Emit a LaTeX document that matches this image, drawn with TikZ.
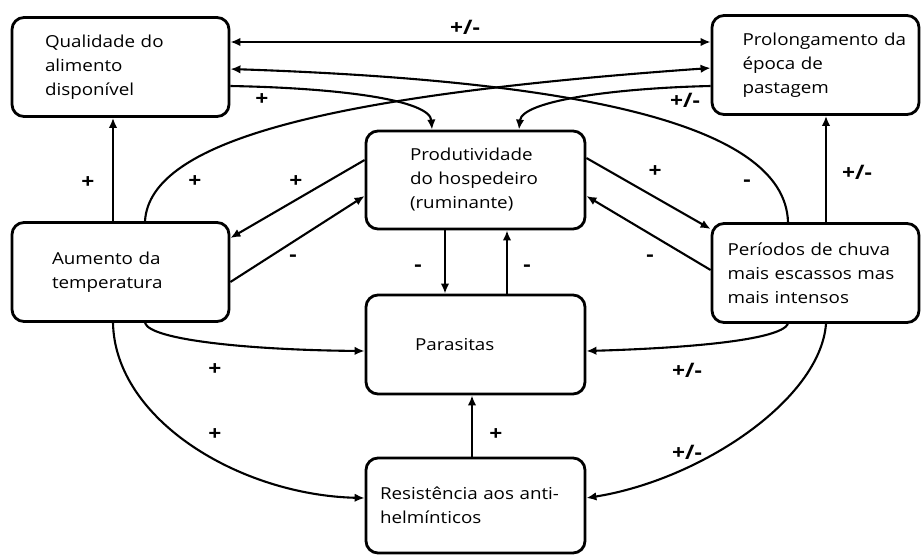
\documentclass[tikz,border=0pt]{standalone}
\usepackage{fontspec}
\setmainfont{Open Sans}[FakeStretch=1.14]
\usetikzlibrary{arrows.meta}

\tikzset{
  box/.style={draw, line width=2.8pt, rounded corners=12pt, inner xsep=0pt,
    minimum width=217pt, minimum height=99pt, align=left,
    font=\fontsize{16.5}{24}\selectfont},
  link/.style={line width=2.1pt, -{Latex[length=10pt,width=8.5pt]}},
  sign/.style={font=\fontsize{20}{22}\selectfont\bfseries, inner sep=1pt}
}

\begin{document}
\begin{tikzpicture}[x=1pt,y=-1pt]
\useasboundingbox (0,0) rectangle (921,555);

%%% HELP LINES - uncomment to design/extend
% \draw[step=50,gray,very thin] (0,0) grid (921,555);

%% Boxes
\node[box, text width=151pt] (qual) at (120.5,67) {Qualidade do\\alimento\\disponível};
\node[box, text width=146pt, minimum width=207pt] (prol) at (815.5,65) {Prolongamento~da\\época de\\pastagem};
\node[box, text width=131pt, minimum width=219pt, minimum height=98pt] (prod) at (475.5,180) {Produtividade\\do hospedeiro\\(ruminante)};
\node[box, text width=137pt] (aum) at (120.5,272) {Aumento da\\temperatura};
\node[box, text width=176pt, minimum width=207pt] (per) at (815.5,273) {Períodos de chuva\\mais escassos mas\\mais intensos};
\node[box, text width=121pt, minimum width=219pt] (par) at (475.5,344.5) {Parasitas};
\node[box, text width=191pt, minimum width=219pt, minimum height=95pt] (res) at (475.5,505.5) {Resistência aos anti-\\helmínticos};

%% Straight links
\draw[link, {Latex[length=10pt,width=8.5pt]}-{Latex[length=10pt,width=8.5pt]}] (qual.east |- 0,42) -- (prol.west |- 0,42);
\draw[link] (aum.north -| 113,0) -- (qual.south -| 113,0);
\draw[link] (per.north -| 826,0) -- (prol.south -| 826,0);
\draw[link] (prod.west |- 0,160) -- (aum.east |- 0,238);
\draw[link] (aum.east |- 0,282) -- (prod.west |- 0,196);
\draw[link] (prod.east |- 0,158) -- (per.west |- 0,229);
\draw[link] (per.west |- 0,270) -- (prod.east |- 0,196);
\draw[link] (prod.south -| 445,0) -- (par.north -| 445,0);
\draw[link] (par.north -| 507,0) -- (prod.south -| 507,0);
\draw[link] (res.north -| 472,0) -- (par.south -| 472,0);

%% Curved links, top
\draw[link] (per.north -| 788,0) .. controls (785,120) and (560,80) .. (qual.east |- 0,69);
\draw[link] (aum.north -| 145,0) .. controls (150,140) and (330,95) .. (prol.west |- 0,68);
\draw[link] (qual.east |- 0,86) .. controls (340,88) and (430,100) .. (prod.north -| 432,0);
\draw[link] (prol.west |- 0,86) .. controls (620,88) and (522,100) .. (prod.north -| 519,0);

%% Curved links, bottom
\draw[link] (aum.south -| 145,0) .. controls (150,340) and (250,350) .. (par.west |- 0,351);
\draw[link] (aum.south -| 113,0) .. controls (115,420) and (240,495) .. (res.west |- 0,498);
\draw[link] (per.south -| 788,0) .. controls (780,340) and (690,348) .. (par.east |- 0,351);
\draw[link] (per.south -| 826,0) .. controls (820,400) and (700,480) .. (res.east |- 0,498);

%% Signs
\foreach \pos/\txt [count=\i] in {{465,27}/{+/-}, {262,100}/+, {685,100}/{+/-},
    {88,183}/+, {195,182}/+, {296,182}/+, {293,258}/-, {418,268}/-, {527,268}/-,
    {655,172}/+, {747,183}/-, {857,172}/{+/-}, {650,258}/-, {215,370}/+,
    {215,435}/+, {687,370}/{+/-}, {687,452}/{+/-}, {496,435}/+}
  \node[sign] (s\i) at (\pos) {\txt};

\end{tikzpicture}
\end{document}
